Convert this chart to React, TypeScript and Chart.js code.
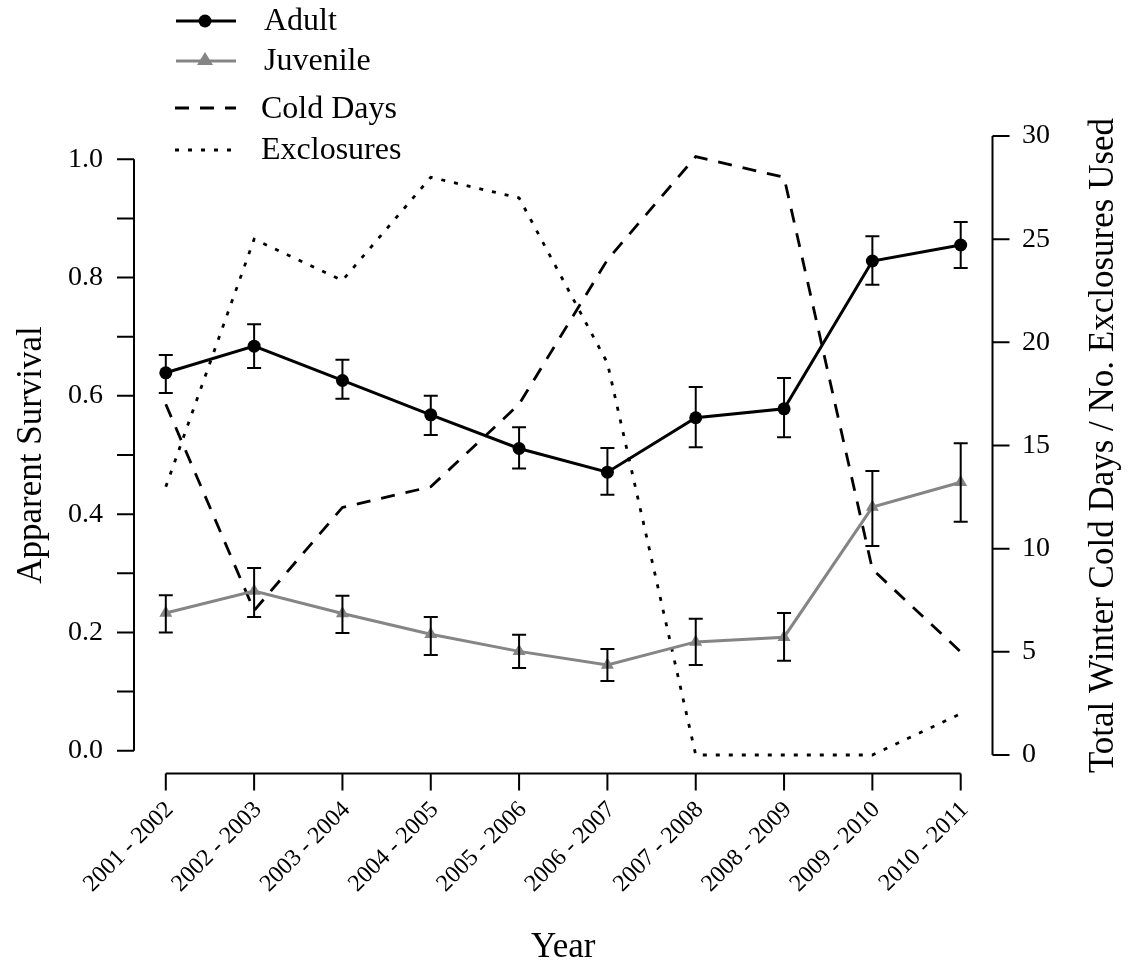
import React, { useEffect, useRef } from "react";
import { Chart, registerables } from "chart.js";

Chart.register(...registerables);

const categories = [
  "2001 - 2002", "2002 - 2003", "2003 - 2004", "2004 - 2005", "2005 - 2006",
  "2006 - 2007", "2007 - 2008", "2008 - 2009", "2009 - 2010", "2010 - 2011",
];
const adult = [0.639, 0.684, 0.626, 0.568, 0.511, 0.471, 0.563, 0.578, 0.828, 0.855];
const adultLower = [0.605, 0.647, 0.595, 0.534, 0.477, 0.433, 0.513, 0.530, 0.788, 0.816];
const adultUpper = [0.669, 0.721, 0.661, 0.600, 0.547, 0.512, 0.615, 0.630, 0.870, 0.894];
const juvenile = [0.233, 0.270, 0.232, 0.197, 0.168, 0.145, 0.184, 0.192, 0.412, 0.454];
const juvenileLower = [0.200, 0.226, 0.199, 0.162, 0.140, 0.118, 0.145, 0.152, 0.346, 0.387];
const juvenileUpper = [0.263, 0.309, 0.262, 0.226, 0.196, 0.172, 0.223, 0.233, 0.473, 0.520];
const coldDays = [17, 7, 12, 13, 17, 24, 29, 28, 9, 5];
const exclosures = [13, 25, 23, 28, 27, 19, 0, 0, 0, 2];

const leftTickValues = [0, 0.1, 0.2, 0.3, 0.4, 0.5, 0.6, 0.7, 0.8, 0.9, 1.0];
const leftTickLabels = ["0.0", "", "0.2", "", "0.4", "", "0.6", "", "0.8", "", "1.0"];
const rightTickValues = [0, 5, 10, 15, 20, 25, 30];
const rightTickLabels = ["0", "5", "10", "15", "20", "25", "30"];

const FONT = '"Liberation Serif", "Times New Roman", serif';
const GRAY = "#858585";

const toXY = (arr: number[]) => arr.map((v, i) => ({ x: i + 1, y: v }));

const rPlugin = {
  id: "rStyle",
  afterDatasetsDraw(chart: any) {
    const ctx = chart.ctx as CanvasRenderingContext2D;
    const xs = chart.scales.x;
    const ys = chart.scales.y;
    ctx.save();
    ctx.strokeStyle = "#000";
    ctx.lineWidth = 2;
    const cap = 7;
    const bars = (lo: number[], hi: number[]) => {
      lo.forEach((l, i) => {
        const px = xs.getPixelForValue(i + 1);
        const p1 = ys.getPixelForValue(l);
        const p2 = ys.getPixelForValue(hi[i]);
        ctx.beginPath();
        ctx.moveTo(px, p1);
        ctx.lineTo(px, p2);
        ctx.moveTo(px - cap, p1);
        ctx.lineTo(px + cap, p1);
        ctx.moveTo(px - cap, p2);
        ctx.lineTo(px + cap, p2);
        ctx.stroke();
      });
    };
    bars(adultLower, adultUpper);
    bars(juvenileLower, juvenileUpper);
    ctx.restore();
  },
  afterDraw(chart: any) {
    const ctx = chart.ctx as CanvasRenderingContext2D;
    const area = chart.chartArea;
    const xs = chart.scales.x;
    const ys = chart.scales.y;
    const y2 = chart.scales.y2;
    ctx.save();
    ctx.strokeStyle = "#000";
    ctx.fillStyle = "#000";
    ctx.lineWidth = 2;
    const tick = 17;

    // left axis
    const lx = area.left;
    ctx.beginPath();
    ctx.moveTo(lx, ys.getPixelForValue(leftTickValues[0]));
    ctx.lineTo(lx, ys.getPixelForValue(leftTickValues[leftTickValues.length - 1]));
    leftTickValues.forEach((v) => {
      const py = ys.getPixelForValue(v);
      ctx.moveTo(lx - tick, py);
      ctx.lineTo(lx, py);
    });
    ctx.stroke();
    ctx.font = `28px ${FONT}`;
    ctx.textAlign = "right";
    ctx.textBaseline = "middle";
    leftTickValues.forEach((v, i) => {
      if (leftTickLabels[i]) ctx.fillText(leftTickLabels[i], 103, ys.getPixelForValue(v));
    });

    // right axis
    const rx = area.right;
    ctx.beginPath();
    ctx.moveTo(rx, y2.getPixelForValue(rightTickValues[0]));
    ctx.lineTo(rx, y2.getPixelForValue(rightTickValues[rightTickValues.length - 1]));
    rightTickValues.forEach((v) => {
      const py = y2.getPixelForValue(v);
      ctx.moveTo(rx, py);
      ctx.lineTo(rx + tick, py);
    });
    ctx.stroke();
    ctx.textAlign = "left";
    rightTickValues.forEach((v, i) => {
      ctx.fillText(rightTickLabels[i], 1022, y2.getPixelForValue(v));
    });

    // x axis
    const by = area.bottom - 1;
    ctx.beginPath();
    ctx.moveTo(xs.getPixelForValue(1), by);
    ctx.lineTo(xs.getPixelForValue(categories.length), by);
    categories.forEach((_, i) => {
      const px = xs.getPixelForValue(i + 1);
      ctx.moveTo(px, by);
      ctx.lineTo(px, by + tick);
    });
    ctx.stroke();
    ctx.font = `24px ${FONT}`;
    categories.forEach((c, i) => {
      const px = xs.getPixelForValue(i + 1);
      ctx.save();
      ctx.translate(px + 4, 806);
      ctx.rotate(-Math.PI / 4);
      ctx.textAlign = "right";
      ctx.textBaseline = "middle";
      ctx.fillText(c, 0, 0);
      ctx.restore();
    });

    // titles
    ctx.font = `35px ${FONT}`;
    ctx.textAlign = "center";
    ctx.textBaseline = "middle";
    ctx.fillText("Year", (xs.getPixelForValue(1) + xs.getPixelForValue(10)) / 2, 948);
    ctx.save();
    ctx.translate(32, (ys.getPixelForValue(0) + ys.getPixelForValue(1)) / 2);
    ctx.rotate(-Math.PI / 2);
    ctx.fillText("Apparent Survival", 0, 0);
    ctx.restore();
    ctx.save();
    ctx.translate(1104, (y2.getPixelForValue(0) + y2.getPixelForValue(30)) / 2);
    ctx.rotate(-Math.PI / 2);
    ctx.fillText("Total Winter Cold Days / No. Exclosures Used", 0, 0);
    ctx.restore();

    // legend
    const lineX1 = 176;
    const lineX2 = 236;
    const mx = 205;
    ctx.lineWidth = 3;
    ctx.strokeStyle = "#000";
    ctx.beginPath();
    ctx.moveTo(lineX1, 21);
    ctx.lineTo(lineX2, 21);
    ctx.stroke();
    ctx.beginPath();
    ctx.arc(mx, 21, 6.5, 0, Math.PI * 2);
    ctx.fill();
    ctx.strokeStyle = GRAY;
    ctx.fillStyle = GRAY;
    ctx.beginPath();
    ctx.moveTo(lineX1, 61);
    ctx.lineTo(lineX2, 61);
    ctx.stroke();
    ctx.beginPath();
    ctx.moveTo(mx, 52);
    ctx.lineTo(mx + 8, 65);
    ctx.lineTo(mx - 8, 65);
    ctx.closePath();
    ctx.fill();
    ctx.strokeStyle = "#000";
    ctx.fillStyle = "#000";
    ctx.lineWidth = 2.8;
    ctx.setLineDash([14, 11]);
    ctx.beginPath();
    ctx.moveTo(lineX1 - 1, 108);
    ctx.lineTo(lineX2, 108);
    ctx.stroke();
    ctx.setLineDash([4, 9]);
    ctx.beginPath();
    ctx.moveTo(lineX1 - 1, 150);
    ctx.lineTo(lineX2, 150);
    ctx.stroke();
    ctx.setLineDash([]);
    ctx.font = `32px ${FONT}`;
    ctx.textAlign = "left";
    ctx.textBaseline = "middle";
    ctx.fillText("Adult", 264, 22);
    ctx.fillText("Juvenile", 264, 62);
    ctx.fillText("Cold Days", 261, 110);
    ctx.fillText("Exclosures", 261, 151);
    ctx.restore();
  },
};

export default function App() {
  const ref = useRef<HTMLCanvasElement | null>(null);
  useEffect(() => {
    if (!ref.current) return;
    const chart = new Chart(ref.current, {
      type: "line",
      data: {
        datasets: [
          {
            label: "Adult",
            data: toXY(adult),
            yAxisID: "y",
            borderColor: "#000",
            backgroundColor: "#000",
            borderWidth: 3,
            pointStyle: "circle",
            pointRadius: 6.5,
            pointBorderWidth: 0,
            pointBackgroundColor: "#000",
            tension: 0,
          },
          {
            label: "Juvenile",
            data: toXY(juvenile),
            yAxisID: "y",
            borderColor: GRAY,
            backgroundColor: GRAY,
            borderWidth: 3,
            pointStyle: "triangle",
            pointRadius: 7.5,
            pointBorderWidth: 0,
            pointBackgroundColor: GRAY,
            tension: 0,
          },
          {
            label: "Cold Days",
            data: toXY(coldDays),
            yAxisID: "y2",
            borderColor: "#000",
            borderWidth: 2.8,
            borderDash: [14, 11],
            pointRadius: 0,
            tension: 0,
          },
          {
            label: "Exclosures",
            data: toXY(exclosures),
            yAxisID: "y2",
            borderColor: "#000",
            borderWidth: 2.8,
            borderDash: [4, 9],
            pointRadius: 0,
            tension: 0,
          },
        ],
      },
      options: {
        responsive: false,
        animation: false,
        devicePixelRatio: 1,
        layout: { padding: { left: 134, right: 136.5, top: 135.6, bottom: 193.6 } },
        plugins: { legend: { display: false }, tooltip: { enabled: false } },
        events: [],
        scales: {
          x: { type: "linear", min: 0.64, max: 10.36, display: false },
          y: { type: "linear", min: -0.04, max: 1.04, display: false },
          y2: { type: "linear", position: "right", min: -0.94, max: 30.02, display: false },
        },
      },
      plugins: [rPlugin],
    } as any);
    return () => chart.destroy();
  }, []);
  return (
    <div style={{ position: "absolute", left: 0, top: 0, width: 1129, height: 968, background: "#fff" }}>
      <canvas ref={ref} width={1129} height={968} style={{ display: "block" }} />
    </div>
  );
}
